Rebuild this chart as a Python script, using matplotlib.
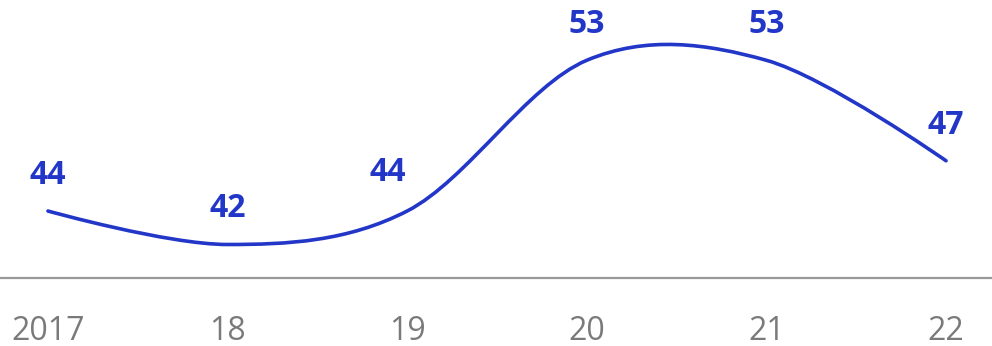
import numpy as np
import matplotlib
matplotlib.use("Agg")
import matplotlib.pyplot as plt
from matplotlib.path import Path
from matplotlib.patches import PathPatch

# data
years = [2017, 2018, 2019, 2020, 2021, 2022]
tick_labels = ["2017", "18", "19", "20", "21", "22"]
values = [44, 42, 44, 53, 53, 47]

line_color = "#2236c8"
plt.rcParams['font.family'] = ['Open Sans', 'DejaVu Sans']

fig = plt.figure(figsize=(9.92, 3.46), dpi=100)
ax = fig.add_axes([0, 68 / 346, 1, 278 / 346])

# smooth curve: cubic bezier segments (catmull-rom style tangents)
x = np.array(years, dtype=float)
y = np.array(values, dtype=float)
n = len(x)
verts = [(x[0], y[0])]
codes = [Path.MOVETO]
for i in range(n - 1):
    if i == 0:
        c1 = (x[0], y[0])
    else:
        c1 = (x[i] + (x[i + 1] - x[i - 1]) / 6, y[i] + (y[i + 1] - y[i - 1]) / 6)
    if i + 1 == n - 1:
        c2 = (x[n - 1], y[n - 1])
    else:
        c2 = (x[i + 1] - (x[i + 2] - x[i]) / 6, y[i + 1] - (y[i + 2] - y[i]) / 6)
    verts += [c1, c2, (x[i + 1], y[i + 1])]
    codes += [Path.CURVE4] * 3
ax.add_patch(PathPatch(Path(verts, codes), facecolor="none", edgecolor=line_color,
                       lw=2.6, capstyle="round", joinstyle="round"))

for i, (xi, yi) in enumerate(zip(years, values)):
    dx, dy = 0, 19.5
    # label sits off the steep rising part of the line
    if 0 < i < n - 1 and values[i + 1] - values[i] > 5:
        dx, dy = -14, 21.5
    ax.annotate(str(yi), (xi, yi), xytext=(dx, dy), textcoords="offset points",
                ha="center", va="baseline", fontsize=23, fontweight="bold",
                color=line_color)

ax.set_xlim(2016.733, 2022.256)
ax.set_ylim(40, 56.6)
ax.set_xticks(years)
ax.set_xticklabels(tick_labels)
ax.set_yticks([])
for s in ["top", "left", "right"]:
    ax.spines[s].set_visible(False)
ax.spines["bottom"].set_color("#999999")
ax.spines["bottom"].set_linewidth(1.6)
ax.tick_params(axis="x", length=0, pad=26.5, labelsize=23, labelcolor="#7a7a7a")

fig.savefig("out.png", dpi=100)
